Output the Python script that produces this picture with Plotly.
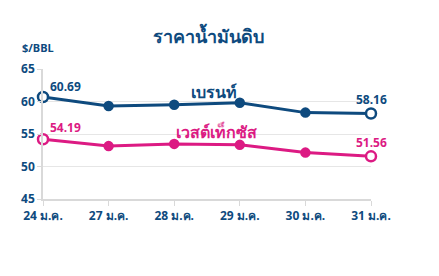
import plotly.graph_objects as go

dates = ["24 ม.ค.", "27 ม.ค.", "28 ม.ค.", "29 ม.ค.", "30 ม.ค.", "31 ม.ค."]
brent = [60.69, 59.32, 59.51, 59.81, 58.29, 58.16]
wti = [54.19, 53.14, 53.48, 53.33, 52.14, 51.56]
y_ticks = [45, 50, 55, 60, 65]

NAVY = "#0E4A7E"
PINK = "#DC1A83"
FONT = "Noto Sans, DejaVu Sans, sans-serif"

xs = list(range(len(dates)))

def series(vals, color, name):
    n = len(vals)
    fills = ["white" if i in (0, n - 1) else color for i in range(n)]
    sizes = [10 if i in (0, n - 1) else 8 for i in range(n)]
    return go.Scatter(
        x=xs, y=vals, mode="lines+markers", name=name,
        line=dict(color=color, width=3),
        marker=dict(color=fills, size=sizes, opacity=1, line=dict(color=color, width=2.5)),
        cliponaxis=False, showlegend=False,
    )

fig = go.Figure()
fig.add_trace(series(brent, NAVY, "เบรนท์"))
fig.add_trace(series(wti, PINK, "เวสต์เท็กซัส"))

plot_w = 439 - 43 - 68
plot_h = 276 - 69 - 77

ann = []
def lab(x, y, text, color, xshift, yshift):
    ann.append(dict(x=x, y=y, text=f"<b>{text}</b>", showarrow=False, xref="x", yref="y",
                    font=dict(family=FONT, size=12, color=color),
                    xshift=xshift, yshift=yshift))

lab(0, brent[0], f"{brent[0]:.2f}", NAVY, 22, 11)
lab(5, brent[-1], f"{brent[-1]:.2f}", NAVY, 0, 14)
lab(0, wti[0], f"{wti[0]:.2f}", PINK, 22, 12)
lab(5, wti[-1], f"{wti[-1]:.2f}", PINK, 0, 14)

ann.append(dict(x=2.6, y=61.4, text="<b>เบรนท์</b>", showarrow=False, xref="x", yref="y",
                font=dict(family=FONT, size=16, color=NAVY)))
ann.append(dict(x=2.65, y=55.3, text="<b>เวสต์เท็กซัส</b>", showarrow=False, xref="x", yref="y",
                font=dict(family=FONT, size=16, color=PINK)))
ann.append(dict(xref="paper", yref="paper", x=(20 - 43) / plot_w, y=1 + (69 - 48) / plot_h,
                text="<b>$/BBL</b>", showarrow=False,
                font=dict(family=FONT, size=11, color=NAVY), xanchor="left", yanchor="middle"))

fig.update_layout(
    width=439, height=276,
    margin=dict(l=43, r=68, t=69, b=77),
    paper_bgcolor="white", plot_bgcolor="white",
    title=dict(text="<b>ราคาน้ำมันดิบ</b>", x=208 / 439, xanchor="center", y=1 - 37 / 276, yanchor="middle",
               font=dict(family=FONT, size=18, color=NAVY)),
    xaxis=dict(range=[0, 5], tickvals=xs, ticktext=[f"<b>{d}</b>" for d in dates],
               showgrid=False, showline=True, linecolor="#D9D9D9", linewidth=1.5,
               ticks="outside", tickcolor="#D9D9D9", ticklen=5,
               tickfont=dict(family=FONT, size=12, color=NAVY), zeroline=False),
    yaxis=dict(range=[45, 65], tickvals=y_ticks, ticktext=[f"<b>{v}</b>" for v in y_ticks],
               showgrid=True, gridcolor="#E6E6E6", gridwidth=1,
               showline=True, linecolor="#D9D9D9", linewidth=1.5,
               ticks="outside", tickcolor="#D9D9D9", ticklen=4,
               tickfont=dict(family=FONT, size=12, color=NAVY), zeroline=False),
    annotations=ann,
)
fig.write_html("out.html")
